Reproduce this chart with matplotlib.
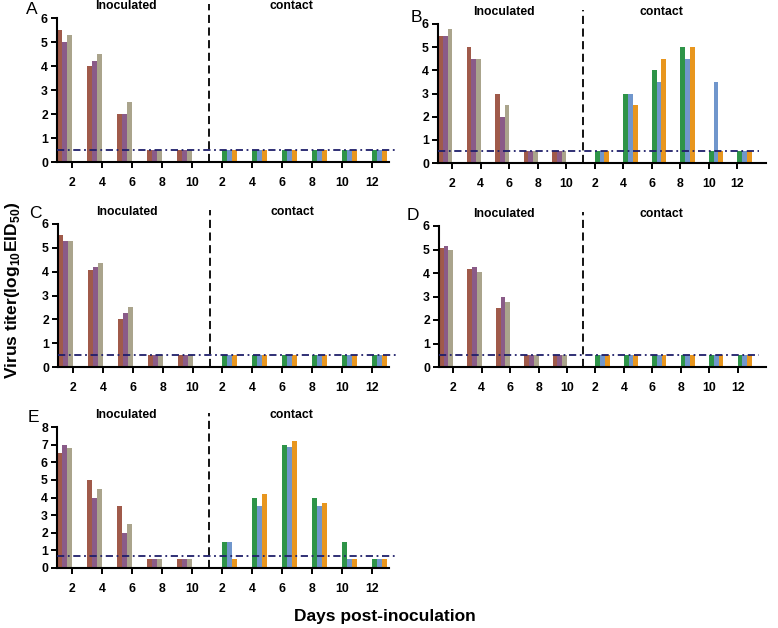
import matplotlib
matplotlib.use("Agg")
import matplotlib.pyplot as plt
import numpy as np

plt.rcParams['font.family'] = ['Liberation Sans', 'DejaVu Sans']
plt.rcParams['mathtext.fontset'] = 'custom'
plt.rcParams['mathtext.rm'] = 'Liberation Sans'
plt.rcParams['mathtext.bf'] = 'Liberation Sans:bold'

# ---------------- data ----------------
inoc_days = [2, 4, 6, 8, 10]
contact_days = [2, 4, 6, 8, 10, 12]

# inoculated birds (3 each) per panel
A_inoc = [[5.5, 5.0, 5.3], [4.0, 4.2, 4.5], [2.0, 2.0, 2.5], [0.5, 0.5, 0.5], [0.5, 0.5, 0.5]]
A_cont = [[0.5, 0.5, 0.5]] * 6

B_inoc = [[5.5, 5.5, 5.8], [5.0, 4.5, 4.5], [3.0, 2.0, 2.5], [0.5, 0.5, 0.5], [0.5, 0.5, 0.5]]
B_cont = [[0.5, 0.5, 0.5], [3.0, 3.0, 2.5], [4.0, 3.5, 4.5], [5.0, 4.5, 5.0], [0.5, 3.5, 0.5], [0.5, 0.5, 0.5]]

C_inoc = [[5.55, 5.3, 5.3], [4.05, 4.2, 4.35], [2.0, 2.25, 2.5], [0.5, 0.5, 0.5], [0.5, 0.5, 0.5]]
C_cont = [[0.5, 0.5, 0.5]] * 6

D_inoc = [[5.05, 5.15, 5.0], [4.15, 4.25, 4.05], [2.5, 3.0, 2.75], [0.5, 0.5, 0.5], [0.5, 0.5, 0.5]]
D_cont = [[0.5, 0.5, 0.5]] * 6

E_inoc = [[6.5, 7.0, 6.8], [5.0, 4.0, 4.5], [3.5, 2.0, 2.5], [0.5, 0.5, 0.5], [0.5, 0.5, 0.5]]
E_cont = [[1.5, 1.5, 0.5], [4.0, 3.5, 4.2], [7.0, 6.85, 7.2], [4.0, 3.5, 3.7], [1.5, 0.5, 0.5], [0.5, 0.5, 0.5]]

limits = {'A': 0.5, 'B': 0.5, 'C': 0.5, 'D': 0.5, 'E': 0.7}
ymax = {'A': 6, 'B': 6, 'C': 6, 'D': 6, 'E': 8}

inoc_colors = ['#a05a4a', '#8a5b88', '#aaa48c']
cont_colors = ['#2e9448', '#7096cc', '#e8961e']

W, H = 778, 628
fig = plt.figure(figsize=(W / 100, H / 100), dpi=100)

# panel boxes in pixels: left, right, top, bottom
boxes = {
    'A': (57, 389, 18, 162),
    'B': (438, 766, 24, 163),
    'C': (58, 389, 224, 367),
    'D': (439, 766, 226, 367),
    'E': (57, 389, 427, 568),
}
xright = {'A': 10.57, 'B': 11.0, 'C': 10.57, 'D': 11.0, 'E': 10.57}
letters_pos = {'A': (32, 10), 'B': (416, 17), 'C': (35, 213), 'D': (413, 216), 'E': (33, 417)}
data = {'A': (A_inoc, A_cont), 'B': (B_inoc, B_cont), 'C': (C_inoc, C_cont),
        'D': (D_inoc, D_cont), 'E': (E_inoc, E_cont)}

bw = 1.0 / 6
for key, (l, r, t, b) in boxes.items():
    ax = fig.add_axes([l / W, 1 - b / H, (r - l) / W, (b - t) / H])
    inoc, cont = data[key]
    for i, vals in enumerate(inoc):
        for k, v in enumerate(vals):
            ax.bar(i - 0.5 + bw * (k + 0.5), v, width=bw, color=inoc_colors[k], linewidth=0)
    for j, vals in enumerate(cont):
        for k, v in enumerate(vals):
            ax.bar(5 + j + bw * (k + 0.5), v, width=bw, color=cont_colors[k], linewidth=0)
    ax.set_xlim(-0.5, xright[key])
    ax.set_ylim(0, ymax[key])
    ax.set_yticks(range(0, ymax[key] + 1))
    ticks = list(range(5)) + [5 + j for j in range(6)]
    ax.set_xticks(ticks)
    ax.set_xticklabels([str(d) for d in inoc_days] + [str(d) for d in contact_days])
    for s in ['top', 'right']:
        ax.spines[s].set_visible(False)
    for s in ['left', 'bottom']:
        ax.spines[s].set_linewidth(1.5)
    ax.tick_params(axis='both', direction='out', length=4.5, width=1.4, labelsize=8.8, pad=2)
    ax.tick_params(axis='x', pad=6)
    for lab in ax.get_xticklabels() + ax.get_yticklabels():
        lab.set_fontweight('bold')
    ax.axhline(limits[key], xmin=0, xmax=1.02 if xright[key] < 11 else 0.98, color='#1f1f6a',
               linestyle=(0, (4, 2, 1, 2)), linewidth=1.3, clip_on=False, zorder=3)
    ax.axvline(4.57, ymin=0, ymax=1 + 14 / (b - t), color='black', linestyle=(0, (4.5, 2.5)),
               linewidth=1.3, clip_on=False)
    ax.annotate('Inoculated', xy=(1.8, 1), xycoords=('data', 'axes fraction'),
                xytext=(0, 8.6), textcoords='offset points', ha='center', va='center',
                fontsize=8.8, fontweight='bold')
    ax.annotate('contact', xy=(7.33, 1), xycoords=('data', 'axes fraction'),
                xytext=(0, 8.6), textcoords='offset points', ha='center', va='center',
                fontsize=8.8, fontweight='bold')
    lx, ly = letters_pos[key]
    fig.text(lx / W, 1 - ly / H, key, fontsize=12.5, ha='center', va='center')

fig.text(13 / W, 1 - 290 / H, r'Virus titer(log$_{\mathbf{10}}$EID$_{\mathbf{50}}$)', rotation=90,
         ha='center', va='center', fontsize=12.5, fontweight='bold')
fig.text(385 / W, 1 - 617 / H, 'Days post-inoculation', ha='center', va='center',
         fontsize=12.5, fontweight='bold')

fig.savefig('out.png', dpi=100)
